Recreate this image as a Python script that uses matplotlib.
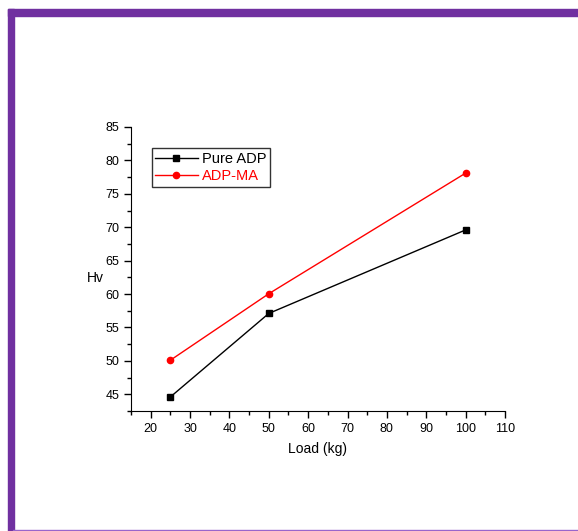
import matplotlib
matplotlib.use('Agg')
import matplotlib.pyplot as plt
from matplotlib.patches import Rectangle
from matplotlib.ticker import MultipleLocator

plt.rcParams['font.family'] = ['Liberation Sans', 'DejaVu Sans']

# Data
load = [25, 50, 100]
pure_adp = [44.6, 57.1, 69.6]
adp_ma = [50.1, 60.05, 78.1]

fig = plt.figure(figsize=(5.78, 5.31), dpi=100)

# purple frame (top + left bands, thin bottom line)
purple = '#7030A0'
fig.patches.append(Rectangle((8 / 578, 1 - 15.7 / 531), 1, 6.7 / 531,
                             transform=fig.transFigure, color=purple, zorder=0))
fig.patches.append(Rectangle((8 / 578, 0), 5.7 / 578, 1 - 9 / 531,
                             transform=fig.transFigure, color=purple, zorder=0))
fig.patches.append(Rectangle((13 / 578, 0), 1, 1.5 / 531,
                             transform=fig.transFigure, color='#9966CC', zorder=0))

ax = fig.add_axes([131 / 578, 1 - 411 / 531, 374 / 578, 284 / 531])
ax.plot(load, pure_adp, color='black', marker='s', markersize=4, linewidth=1,
        label='Pure ADP')
ax.plot(load, adp_ma, color='red', marker='o', markersize=4.5, linewidth=1,
        label='ADP-MA')

ax.set_xlim(15, 110)
ax.set_ylim(42.5, 85)
ax.xaxis.set_major_locator(MultipleLocator(10))
ax.xaxis.set_minor_locator(MultipleLocator(5))
ax.yaxis.set_major_locator(MultipleLocator(5))
ax.yaxis.set_minor_locator(MultipleLocator(2.5))
ax.spines['top'].set_visible(False)
ax.spines['right'].set_visible(False)
ax.tick_params(which='major', direction='out', length=5, width=1, labelsize=9)
ax.tick_params(which='minor', direction='out', length=3, width=1)

ax.set_xlabel('Load (kg)', fontsize=10, labelpad=5)
ax.set_ylabel('Hv', fontsize=10, rotation=0)
ax.yaxis.set_label_coords(-0.095, 0.445)

leg = ax.legend(loc='upper left', bbox_to_anchor=(0.055, 0.925), fontsize=10.5,
                frameon=True, fancybox=False, handlelength=2.9, handletextpad=0.3,
                borderpad=0.25, labelspacing=0.2, borderaxespad=0)
leg.get_frame().set_edgecolor('black')
leg.get_frame().set_linewidth(1)
for txt, line in zip(leg.get_texts(), leg.get_lines()):
    txt.set_color(line.get_color())

plt.savefig('out.png', dpi=100)
